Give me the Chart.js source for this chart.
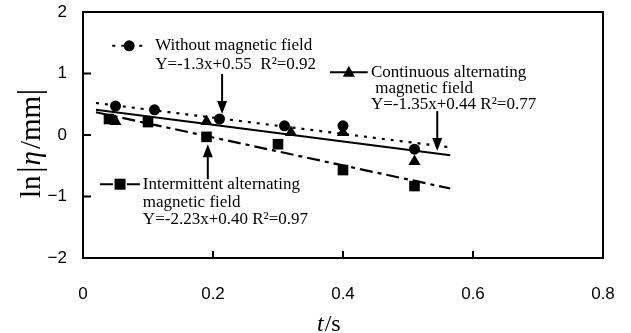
<!DOCTYPE html>
<html>
<head>
<meta charset="utf-8">
<script src="https://cdn.jsdelivr.net/npm/chart.js@4.4.1/dist/chart.umd.min.js"></script>
<style>
    html, body { margin: 0; padding: 0; background: #fff; }
    #wrap { width: 631px; height: 333px; }
</style>
</head>
<body>
<div id="wrap"><canvas id="myChart" width="631" height="333"></canvas></div>
<script>
// 測定値 (t/s, ln|η/mm|)
var withoutT = [0.05, 0.11, 0.21, 0.31, 0.40, 0.51];
var withoutLn = [0.47, 0.41, 0.26, 0.15, 0.15, -0.23];
var contT = [0.05, 0.19, 0.32, 0.40, 0.51];
var contLn = [0.22, 0.22, 0.04, 0.04, -0.43];
var interT = [0.04, 0.10, 0.19, 0.30, 0.40, 0.51];
var interLn = [0.26, 0.21, -0.03, -0.15, -0.57, -0.83];

// 回帰直線の両端
var fitT = [0.02, 0.565];
var withoutFit = [0.52, -0.20];
var contFit = [0.41, -0.33];
var interFit = [0.37, -0.87];

// 軸目盛
var xTicks = [0, 0.2, 0.4, 0.6, 0.8];
var yTicks = [-2, -1, 0, 1, 2];

var serif = '"Liberation Serif", "DejaVu Serif", serif';
var sans = '"Liberation Sans", Arial, sans-serif';

var dotDash = [3, 6];
var chainDash = [13, 5, 4, 5];

// 注記 (データ座標)
var notes = [
    { marker: 'circle', dash: dotDash, lineT: [0.045, 0.10], markT: 0.071, t: 0.108,
      ln: [1.45, 1.15], text: ['Without magnetic field', 'Y=-1.3x+0.55  R\u00b2=0.92'] },
    { marker: 'triangle', dash: [], lineT: [0.38, 0.438], markT: 0.409, t: 0.44,
      ln: [1.02, 0.75, 0.49], text: ['Continuous alternating', ' magnetic field', 'Y=-1.35x+0.44 R\u00b2=0.77'] },
    { marker: 'rect', dash: chainDash, lineT: [0.026, 0.088], markT: 0.057, t: 0.089,
      ln: [-0.80, -1.09, -1.38], text: ['Intermittent alternating', 'magnetic field', 'Y=-2.23x+0.40 R\u00b2=0.97'] }
];
var arrows = [
    { t: 0.214, from: 0.99, to: 0.34 },
    { t: 0.545, from: 0.39, to: -0.26 },
    { t: 0.192, from: -0.72, to: -0.15 }
];

function pts(xs, ys) {
    return xs.map(function (x, i) { return { x: x, y: ys[i] }; });
}

function noPad(s) {
    s.paddingLeft = 0;
    s.paddingRight = 0;
    s.paddingTop = 0;
    s.paddingBottom = 0;
}

function drawMarker(ctx, style, x, y) {
    ctx.save();
    ctx.fillStyle = '#000';
    ctx.setLineDash([]);
    ctx.beginPath();
    if (style === 'circle') {
        ctx.arc(x, y, 5.5, 0, Math.PI * 2);
    } else if (style === 'triangle') {
        ctx.moveTo(x, y - 6.5);
        ctx.lineTo(x + 6, y + 4.5);
        ctx.lineTo(x - 6, y + 4.5);
        ctx.closePath();
    } else {
        ctx.rect(x - 5.5, y - 5.5, 11, 11);
    }
    ctx.fill();
    ctx.restore();
}

var figurePlugin = {
    id: 'figure',
    afterDraw: function (chart) {
        var ctx = chart.ctx;
        var a = chart.chartArea;
        var xs = chart.scales.x;
        var ys = chart.scales.y;
        ctx.save();
        // 枠
        ctx.strokeStyle = '#000';
        ctx.lineWidth = 2;
        ctx.setLineDash([]);
        ctx.strokeRect(a.left, a.top, a.right - a.left, a.bottom - a.top);
        // 内向き目盛
        ctx.beginPath();
        xTicks.forEach(function (v) {
            var px = xs.getPixelForValue(v);
            ctx.moveTo(px, a.bottom);
            ctx.lineTo(px, a.bottom - 7);
        });
        yTicks.forEach(function (v) {
            var py = ys.getPixelForValue(v);
            ctx.moveTo(a.left, py);
            ctx.lineTo(a.left + 8, py);
        });
        ctx.stroke();

        // 注記
        notes.forEach(function (n) {
            var my = ys.getPixelForValue(n.ln[0]);
            ctx.save();
            ctx.lineWidth = 2;
            ctx.setLineDash(n.dash);
            ctx.beginPath();
            ctx.moveTo(xs.getPixelForValue(n.lineT[0]), my);
            ctx.lineTo(xs.getPixelForValue(n.lineT[1]), my);
            ctx.stroke();
            ctx.restore();
            drawMarker(ctx, n.marker, xs.getPixelForValue(n.markT), my);
            ctx.fillStyle = '#000';
            ctx.font = '17px ' + serif;
            ctx.textAlign = 'left';
            ctx.textBaseline = 'middle';
            n.text.forEach(function (s, i) {
                ctx.fillText(s, xs.getPixelForValue(n.t) + 2, ys.getPixelForValue(n.ln[i]));
            });
        });

        // 矢印
        arrows.forEach(function (ar) {
            var px = xs.getPixelForValue(ar.t);
            var y0 = ys.getPixelForValue(ar.from);
            var y1 = ys.getPixelForValue(ar.to);
            var dir = y1 > y0 ? 1 : -1;
            ctx.lineWidth = 2;
            ctx.setLineDash([]);
            ctx.beginPath();
            ctx.moveTo(px, y0);
            ctx.lineTo(px, y1 - dir * 8);
            ctx.stroke();
            ctx.beginPath();
            ctx.moveTo(px, y1);
            ctx.lineTo(px - 5, y1 - dir * 13);
            ctx.lineTo(px + 5, y1 - dir * 13);
            ctx.closePath();
            ctx.fill();
        });

        // 軸タイトル
        ctx.fillStyle = '#000';
        ctx.textBaseline = 'alphabetic';
        ctx.textAlign = 'left';
        var tx = 317, ty = 331;
        ctx.font = 'italic 24px ' + serif;
        ctx.fillText('t', tx, ty);
        var w = ctx.measureText('t').width;
        ctx.font = '24px ' + serif;
        ctx.fillText('/s', tx + w + 1, ty);

        ctx.translate(40, 198);
        ctx.rotate(-Math.PI / 2);
        var parts = [
            ['ln', '29px ' + serif, 0],
            ['|', '29px ' + serif, 5],
            ['\u03b7', 'italic 29px ' + serif, 3],
            ['/mm', '29px ' + serif, 2],
            ['|', '29px ' + serif, 3]
        ];
        var cx = 0;
        parts.forEach(function (p) {
            ctx.font = p[1];
            cx += p[2];
            if (p[0] === '|') {
                ctx.fillRect(cx, -23, 1.6, 30);
                cx += 2;
            } else {
                ctx.fillText(p[0], cx, 0);
                cx += ctx.measureText(p[0]).width;
            }
        });
        ctx.restore();
    }
};

var ctx = document.getElementById('myChart').getContext('2d');
var config = {
    type: 'scatter',
    data: {
        datasets: [{
            label: 'Without magnetic field',
            data: pts(withoutT, withoutLn),
            pointStyle: 'circle',
            pointRadius: 5.5,
            backgroundColor: '#000',
            borderColor: '#000',
            borderWidth: 0
        }, {
            label: 'Continuous alternating magnetic field',
            data: pts(contT, contLn),
            pointStyle: 'triangle',
            pointRadius: 7,
            backgroundColor: '#000',
            borderColor: '#000',
            borderWidth: 0
        }, {
            label: 'Intermittent alternating magnetic field',
            data: pts(interT, interLn),
            pointStyle: 'rect',
            pointRadius: 7.5,
            backgroundColor: '#000',
            borderColor: '#000',
            borderWidth: 0
        }, {
            label: 'fit without',
            data: pts(fitT, withoutFit),
            showLine: true,
            pointRadius: 0,
            borderColor: '#000',
            borderWidth: 2.2,
            borderDash: dotDash
        }, {
            label: 'fit continuous',
            data: pts(fitT, contFit),
            showLine: true,
            pointRadius: 0,
            borderColor: '#000',
            borderWidth: 2
        }, {
            label: 'fit intermittent',
            data: pts(fitT, interFit),
            showLine: true,
            pointRadius: 0,
            borderColor: '#000',
            borderWidth: 2.2,
            borderDash: chainDash
        }]
    },
    options: {
        responsive: false,
        animation: false,
        layout: {
            autoPadding: false,
            padding: { top: 12, right: 28, left: 0, bottom: 0 }
        },
        plugins: {
            legend: { display: false },
            tooltip: { enabled: false }
        },
        scales: {
            x: {
                type: 'linear',
                min: 0,
                max: 0.8,
                afterFit: function (s) { s.height = 75; noPad(s); },
                afterBuildTicks: function (s) { s.ticks = xTicks.map(function (v) { return { value: v }; }); },
                grid: { display: false },
                border: { display: false },
                ticks: {
                    padding: 18,
                    color: '#000',
                    font: { family: sans, size: 17 },
                    callback: function (v) { return v === 0 ? '0' : v.toFixed(1); }
                }
            },
            y: {
                type: 'linear',
                min: -2,
                max: 2,
                afterFit: function (s) { s.width = 83; noPad(s); },
                afterBuildTicks: function (s) { s.ticks = yTicks.map(function (v) { return { value: v }; }); },
                grid: { display: false },
                border: { display: false },
                ticks: {
                    padding: 8,
                    color: '#000',
                    font: { family: sans, size: 17 },
                    callback: function (v) { return v < 0 ? '\u2212' + Math.abs(v) : String(v); }
                }
            }
        }
    },
    plugins: [figurePlugin]
};
var myChart = new Chart(ctx, config);
</script>
</body>
</html>
